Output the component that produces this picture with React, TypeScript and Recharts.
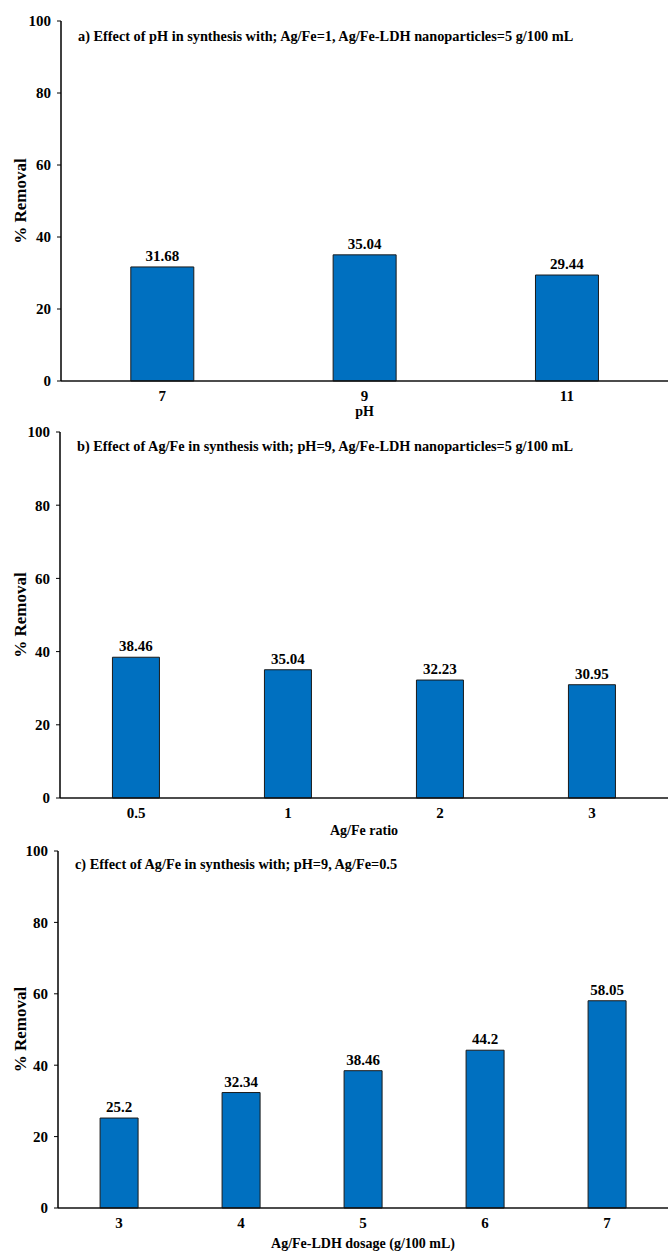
import React from 'react';
import { BarChart, Bar, XAxis, YAxis, LabelList } from 'recharts';

const phCategories = ['7', '9', '11'];
const phRemoval = [31.68, 35.04, 29.44];
const ratioCategories = ['0.5', '1', '2', '3'];
const ratioRemoval = [38.46, 35.04, 32.23, 30.95];
const dosageCategories = ['3', '4', '5', '6', '7'];
const dosageRemoval = [25.2, 32.34, 38.46, 44.2, 58.05];
const yTicks = [0, 20, 40, 60, 80, 100];

const FONT = "'Liberation Serif', 'Times New Roman', serif";
const W = 668;
const H = 417;
const EXTRA = 20;

type PanelProps = {
  categories: string[];
  values: number[];
  title: string;
  xTitle: string;
  top: number;
  plotTop: number;
  plotH: number;
  axisX: number;
  titleY: number;
  xTitleY: number;
};

function Panel(p: PanelProps) {
  const data = p.categories.map((c, i) => ({ cat: c, value: p.values[i] }));
  const xAxisH = H - p.plotTop - p.plotH;
  const cy = p.plotTop + p.plotH / 2;
  return (
    <div style={{ position: 'absolute', left: 0, top: p.top, width: W, height: H + EXTRA }}>
      <BarChart
        width={W}
        height={H + EXTRA}
        data={data}
        margin={{ top: p.plotTop, right: 0, left: 0, bottom: EXTRA }}
        barCategoryGap="34.5%"
      >
        <XAxis
          dataKey="cat"
          type="category"
          height={xAxisH}
          axisLine={{ stroke: '#111', strokeWidth: 1.5 }}
          tickLine={false}
          tickSize={0}
          tickMargin={9}
          tick={{ fill: '#000', fontFamily: FONT, fontWeight: 700, fontSize: 15 }}
        />
        <YAxis
          type="number"
          domain={[0, 100]}
          ticks={yTicks}
          width={p.axisX}
          interval={0}
          axisLine={{ stroke: '#000', strokeWidth: 1.5 }}
          tickLine={{ stroke: '#000', strokeWidth: 1 }}
          tickSize={4}
          tickMargin={6}
          tick={{ fill: '#000', fontFamily: FONT, fontWeight: 700, fontSize: 15 }}
        />
        <Bar dataKey="value" fill="#0070C0" stroke="#1a1a1a" strokeWidth={1} isAnimationActive={false}>
          <LabelList
            dataKey="value"
            position="top"
            offset={6}
            style={{ fill: '#000', fontFamily: FONT, fontWeight: 700, fontSize: 15 }}
          />
        </Bar>
        <text
          x={p.axisX + 17}
          y={p.titleY}
          dominantBaseline="central"
          style={{ fill: '#000', fontFamily: FONT, fontWeight: 700, fontSize: 14.3 }}
        >
          {p.title}
        </text>
        <text
          x={(p.axisX + W) / 2}
          y={p.xTitleY}
          textAnchor="middle"
          dominantBaseline="central"
          style={{ fill: '#000', fontFamily: FONT, fontWeight: 700, fontSize: 14 }}
        >
          {p.xTitle}
        </text>
        <text
          x={20}
          y={cy}
          textAnchor="middle"
          dominantBaseline="central"
          transform={`rotate(-90, 20, ${cy})`}
          style={{ fill: '#000', fontFamily: FONT, fontWeight: 700, fontSize: 17 }}
        >
          % Removal
        </text>
      </BarChart>
    </div>
  );
}

export default function App() {
  return (
    <div style={{ position: 'absolute', left: 0, top: 0, width: W, height: 1251, background: '#fff', overflow: 'hidden' }}>
      <Panel
        categories={phCategories}
        values={phRemoval}
        title="a) Effect of pH in synthesis with; Ag/Fe=1, Ag/Fe-LDH nanoparticles=5 g/100 mL"
        xTitle="pH"
        top={0}
        plotTop={21}
        plotH={360}
        axisX={61}
        titleY={36}
        xTitleY={411}
      />
      <Panel
        categories={ratioCategories}
        values={ratioRemoval}
        title="b) Effect of Ag/Fe in synthesis with; pH=9, Ag/Fe-LDH nanoparticles=5 g/100 mL"
        xTitle="Ag/Fe ratio"
        top={417}
        plotTop={15}
        plotH={366}
        axisX={60}
        titleY={29}
        xTitleY={413}
      />
      <Panel
        categories={dosageCategories}
        values={dosageRemoval}
        title="c) Effect of Ag/Fe in synthesis with; pH=9, Ag/Fe=0.5"
        xTitle="Ag/Fe-LDH dosage (g/100 mL)"
        top={834}
        plotTop={17}
        plotH={357}
        axisX={58}
        titleY={30}
        xTitleY={409}
      />
    </div>
  );
}
